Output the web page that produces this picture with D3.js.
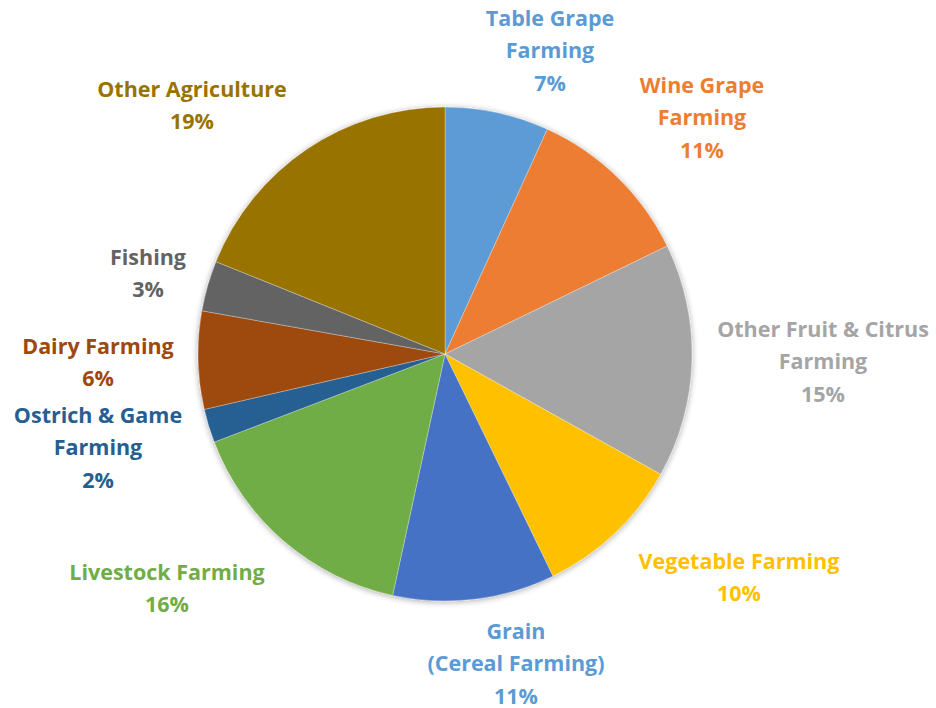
<!DOCTYPE html>
<html>
<head>
<meta charset="utf-8">
<script src="https://cdn.jsdelivr.net/npm/d3@7"></script>
<style>
  body { margin: 0; background: #fff; }
  svg { display: block; font-family: "Open Sans", Lato, sans-serif; font-weight: 700; }
</style>
</head>
<body>
<svg id="chart"></svg>
<script>
const width = 936;
const height = 708;
const cx = 445;
const cy = 354;
const radius = 247;

// sectors, clockwise from 12 o'clock
const categories = [
    ['Table Grape', 'Farming'],
    ['Wine Grape', 'Farming'],
    ['Other Fruit & Citrus', 'Farming'],
    ['Vegetable Farming'],
    ['Grain', '(Cereal Farming)'],
    ['Livestock Farming'],
    ['Ostrich & Game', 'Farming'],
    ['Dairy Farming'],
    ['Fishing'],
    ['Other Agriculture']
];
const shares = [6.8, 11.0, 15.3, 9.7, 10.6, 15.8, 2.2, 6.4, 3.3, 18.9];
const colors = ['#5B9BD5', '#ED7D31', '#A5A5A5', '#FFC000', '#4472C4',
                '#70AD47', '#255E91', '#9E480E', '#636363', '#997300'];
const labelColors = ['#5B9BD5', '#ED7D31', '#A5A5A5', '#FFC000', '#5B9BD5',
                     '#70AD47', '#255E91', '#9E480E', '#636363', '#997300'];

// where each label block is centred (x, y of first line)
const labelAnchors = [
    [550, 18], [702, 85], [823, 329], [739, 561], [516, 631],
    [167, 572], [98, 415], [98, 346], [148, 257], [192, 89]
];
const lineHeight = 32.5;

const svg = d3.select('#chart')
    .attr('width', width)
    .attr('height', height);

const defs = svg.append('defs');
const shadow = defs.append('filter').attr('id', 'shadow')
    .attr('x', '-10%').attr('y', '-10%').attr('width', '120%').attr('height', '120%');
shadow.append('feGaussianBlur').attr('in', 'SourceAlpha').attr('stdDeviation', 3);
shadow.append('feOffset').attr('dx', 0).attr('dy', 1).attr('result', 'blur');
shadow.append('feComponentTransfer').append('feFuncA').attr('type', 'linear').attr('slope', 0.35);
const merge = shadow.append('feMerge');
merge.append('feMergeNode');
merge.append('feMergeNode').attr('in', 'SourceGraphic');

const color = d3.scaleOrdinal().domain(d3.range(shares.length)).range(colors);

const pie = d3.pie().sort(null).value(d => d);
const arc = d3.arc().innerRadius(0).outerRadius(radius);

const g = svg.append('g')
    .attr('transform', `translate(${cx}, ${cy})`)
    .attr('filter', 'url(#shadow)');

g.selectAll('path')
    .data(pie(shares))
    .enter().append('path')
    .attr('d', arc)
    .attr('fill', (d, i) => color(i))
    .attr('stroke', '#fff')
    .attr('stroke-width', 0.6)
    .attr('stroke-opacity', 0.5);

const labels = svg.append('g').selectAll('text')
    .data(categories)
    .enter().append('text')
    .attr('text-anchor', 'middle')
    .attr('font-size', 21.5)
    .attr('fill', (d, i) => labelColors[i])
    .attr('x', (d, i) => labelAnchors[i][0])
    .attr('y', (d, i) => labelAnchors[i][1]);

labels.each(function (lines, i) {
    const t = d3.select(this);
    const all = lines.concat([Math.round(shares[i]) + '%']);
    all.forEach((line, j) => {
        t.append('tspan')
            .attr('x', labelAnchors[i][0])
            .attr('dy', j === 0 ? '0.36em' : lineHeight)
            .text(line);
    });
});
</script>
</body>
</html>
